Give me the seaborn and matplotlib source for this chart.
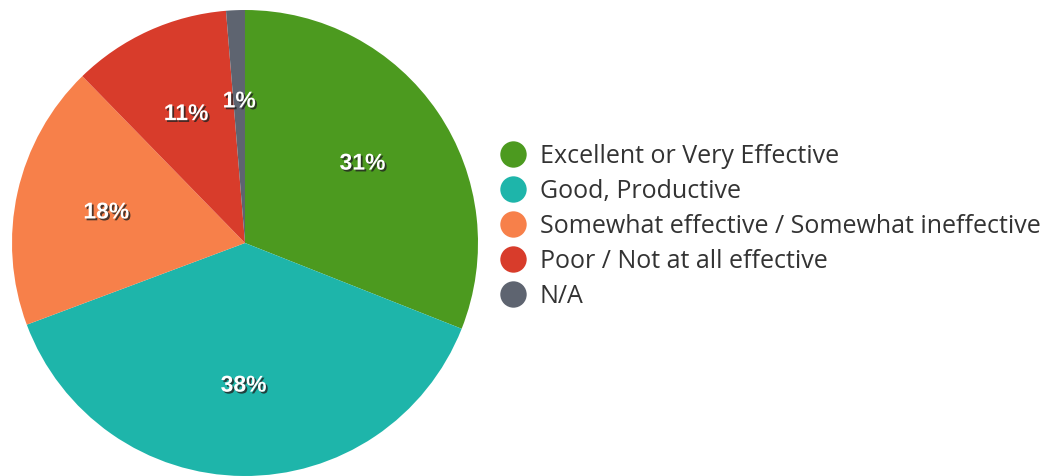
import matplotlib
matplotlib.use("Agg")
import matplotlib.pyplot as plt
import matplotlib.patheffects as pe
from matplotlib.lines import Line2D
import numpy as np
import seaborn as sns

categories = ["Excellent or Very Effective", "Good, Productive",
              "Somewhat effective / Somewhat ineffective",
              "Poor / Not at all effective", "N/A"]
values = [31.0, 38.3, 18.4, 11.0, 1.3]
pct_labels = ["31%", "38%", "18%", "11%", "1%"]
colors = ["#4C9A1F", "#1EB5AA", "#F7804A", "#D83C2B", "#5E6470"]

sns.set_theme(style="white")
plt.rcParams["font.family"] = ["Open Sans", "DejaVu Sans"]

fig = plt.figure(figsize=(10.44, 4.76), dpi=100)
ax = fig.add_axes([12 / 1044, 0 / 476, 466 / 1044, 466 / 476])
wedges, _ = ax.pie(values, colors=colors, startangle=90, counterclock=False,
                   radius=1.0, wedgeprops=dict(linewidth=0))
ax.set_xlim(-1, 1)
ax.set_ylim(-1, 1)
ax.set_aspect("equal")
ax.axis("off")

for w, lab in zip(wedges, pct_labels):
    ang = np.deg2rad((w.theta1 + w.theta2) / 2)
    r = 0.61
    ax.text(r * np.cos(ang), r * np.sin(ang), lab, ha="center", va="center",
            color="white", fontsize=16.5, fontweight="bold",
            family=["Liberation Sans", "DejaVu Sans"],
            path_effects=[pe.withSimplePatchShadow(offset=(1.3, -1.3),
                                                   shadow_rgbFace="#222222",
                                                   alpha=0.8)])

handles = [Line2D([0], [0], marker="o", linestyle="none", markersize=19,
                  markerfacecolor=c, markeredgewidth=0) for c in colors]
fig.legend(handles, categories, loc="center left",
           bbox_to_anchor=(499 / 1044, 0.525), frameon=False,
           fontsize=18, labelspacing=0.40, handlelength=1.1,
           handletextpad=0.54, borderpad=0, borderaxespad=0,
           labelcolor="#333333")

fig.savefig("out.png", dpi=100, facecolor="white")
